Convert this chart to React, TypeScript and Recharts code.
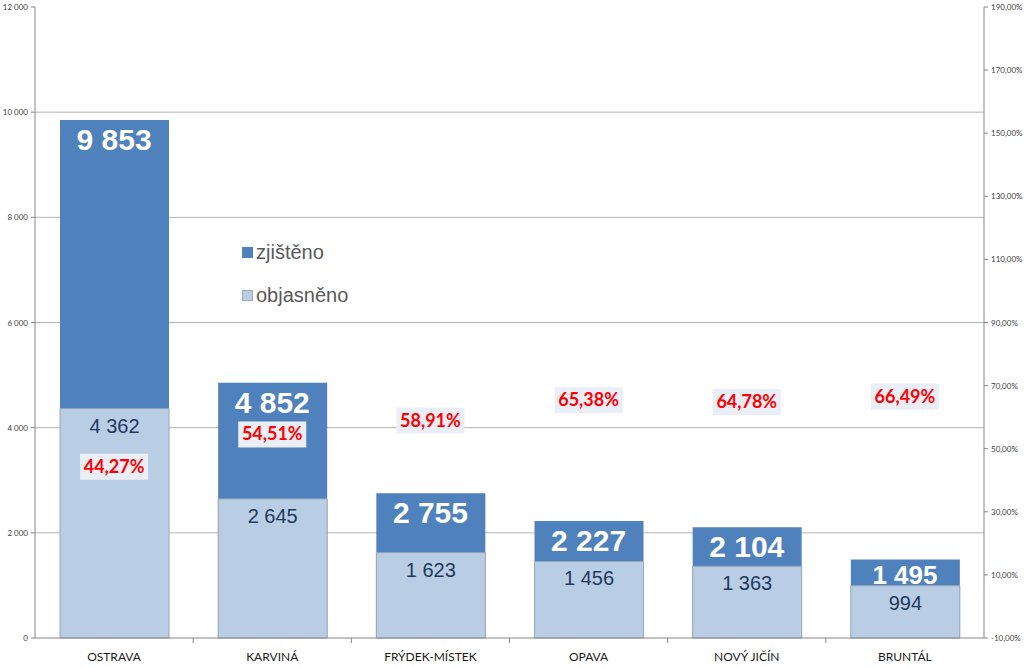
import React from "react";
import {
  ComposedChart,
  Bar,
  Line,
  XAxis,
  YAxis,
  CartesianGrid,
  LabelList,
  Legend,
} from "recharts";

// Kraj - okresy
const CATEGORIES = ["OSTRAVA", "KARVINÁ", "FRÝDEK-MÍSTEK", "OPAVA", "NOVÝ JIČÍN", "BRUNTÁL"];
const ZJISTENO = [9853, 4852, 2755, 2227, 2104, 1495];
const OBJASNENO = [4362, 2645, 1623, 1456, 1363, 994];
const PODIL = [44.27, 54.51, 58.91, 65.38, 64.78, 66.49];

const LEFT_TICKS = [0, 2000, 4000, 6000, 8000, 10000, 12000];
const RIGHT_TICKS = [-10, 10, 30, 50, 70, 90, 110, 130, 150, 170, 190];
const GRID_VALUES = [2000, 4000, 6000, 8000, 10000];

const DARK = "#4F81BD";
const LIGHT = "#B9CDE5";

const data = CATEGORIES.map((name, i) => ({
  name,
  zjisteno: ZJISTENO[i],
  objasneno: OBJASNENO[i],
  podil: PODIL[i],
}));

const fmtNum = (v: number) => String(v).replace(/\B(?=(\d{3})+(?!\d))/g, " ");
const fmtPct = (v: number) => v.toFixed(2).replace(".", ",") + "%";

const CatTick = (props: any) => {
  const { x, y, payload } = props;
  const off = payload && payload.offset ? payload.offset : 0;
  return (
    <g>
      {payload.index > 0 && (
        <line x1={x - off} x2={x - off} y1={y} y2={y + 5} stroke="#868686" />
      )}
      <text x={x} y={y + 23} textAnchor="middle" fontSize={12} fill="#1a1a1a" fontFamily="Lato">
        {payload.value}
      </text>
    </g>
  );
};

const ValueTick = (props: any) => {
  const { x, y, payload, textAnchor, fmt } = props;
  return (
    <text x={x} y={y + 3} textAnchor={textAnchor} fontSize={8} fill="#404040" fontFamily="Lato">
      {fmt(payload.value)}
    </text>
  );
};

const TotalLabel = (props: any) => {
  const { x, y, value, index } = props;
  // short dark segment -> smaller label, as in the original
  const small = ZJISTENO[index] - OBJASNENO[index] < 600;
  return (
    <text
      x={x}
      y={y + (small ? 25 : 30)}
      textAnchor="middle"
      fontFamily="Liberation Sans, Arial"
      fontWeight="bold"
      fontSize={small ? 26 : 30}
      fill="#ffffff"
    >
      {fmtNum(value)}
    </text>
  );
};

const SolvedLabel = (props: any) => {
  const { x, y, width, value } = props;
  return (
    <text
      x={x + width / 2}
      y={y + 24}
      textAnchor="middle"
      fontFamily="Liberation Sans, Arial"
      fontSize={20}
      fill="#1f3a60"
    >
      {fmtNum(value)}
    </text>
  );
};

const PctLabel = (props: any) => {
  const { x, y, value } = props;
  return (
    <g>
      <rect x={x - 34} y={y - 13} width={68} height={26} fill="#eaeef7" />
      <text
        x={x}
        y={y + 6}
        textAnchor="middle"
        fontFamily="Lato"
        fontWeight="bold"
        fontSize={18}
        fill="#ff0000"
      >
        {fmtPct(value)}
      </text>
    </g>
  );
};

const LegendBox = () => (
  <div style={{ fontFamily: "Liberation Sans, Arial", fontSize: 20, color: "#595959" }}>
    <div style={{ display: "flex", alignItems: "center", height: 24 }}>
      <span style={{ width: 11, height: 11, background: DARK, marginRight: 3, display: "inline-block" }} />
      zjištěno
    </div>
    <div style={{ display: "flex", alignItems: "center", height: 24, marginTop: 19 }}>
      <span
        style={{
          width: 9,
          height: 9,
          background: LIGHT,
          border: "1px solid #9aa9bd",
          marginRight: 3,
          display: "inline-block",
        }}
      />
      objasněno
    </div>
  </div>
);

export default function App() {
  return (
    <div style={{ position: "absolute", left: 0, top: 0, width: 1024, height: 667, background: "#fff" }}>
      <ComposedChart
        width={1024}
        height={667}
        data={data}
        margin={{ top: 7, right: 0, bottom: 0, left: 0 }}
        style={{ fontFamily: "Lato" }}
      >
        <CartesianGrid
          yAxisId="left"
          vertical={false}
          horizontalValues={GRID_VALUES}
          stroke="#b3b3b3"
        />
        <XAxis
          dataKey="name"
          height={29}
          axisLine={{ stroke: "#868686" }}
          tickLine={false}
          tickSize={0}
          tickMargin={0}
          tick={<CatTick />}
          interval={0}
        />
        <XAxis xAxisId="over" dataKey="name" hide />
        <YAxis
          yAxisId="left"
          width={35}
          domain={[0, 12000]}
          ticks={LEFT_TICKS}
          interval={0}
          axisLine={{ stroke: "#868686" }}
          tickLine={{ stroke: "#868686" }}
          tickSize={4}
          tickMargin={3}
          tick={<ValueTick fmt={fmtNum} />}
        />
        <YAxis
          yAxisId="pct"
          orientation="right"
          width={40}
          domain={[-10, 190]}
          ticks={RIGHT_TICKS}
          interval={0}
          axisLine={{ stroke: "#868686" }}
          tickLine={{ stroke: "#868686" }}
          tickSize={4}
          tickMargin={3}
          tick={<ValueTick fmt={fmtPct} />}
        />
        <Legend
          layout="vertical"
          align="center"
          verticalAlign="middle"
          content={<LegendBox />}
          wrapperStyle={{ position: "absolute", left: 242, top: 240, width: 150 }}
        />
        <Bar
          yAxisId="left"
          dataKey="zjisteno"
          fill={DARK}
          barSize={109}
          isAnimationActive={false}
        />
        <Bar
          yAxisId="left"
          xAxisId="over"
          dataKey="objasneno"
          fill={LIGHT}
          stroke="#98a6b8"
          strokeWidth={1}
          barSize={109}
          isAnimationActive={false}
        >
          <LabelList dataKey="objasneno" content={<SolvedLabel />} />
        </Bar>
        <Line
          yAxisId="left"
          dataKey="zjisteno"
          stroke="none"
          dot={false}
          activeDot={false}
          legendType="none"
          isAnimationActive={false}
        >
          <LabelList dataKey="zjisteno" content={<TotalLabel />} />
        </Line>
        <Line
          yAxisId="pct"
          dataKey="podil"
          stroke="none"
          dot={false}
          activeDot={false}
          legendType="none"
          isAnimationActive={false}
        >
          <LabelList dataKey="podil" content={<PctLabel />} />
        </Line>
      </ComposedChart>
    </div>
  );
}
